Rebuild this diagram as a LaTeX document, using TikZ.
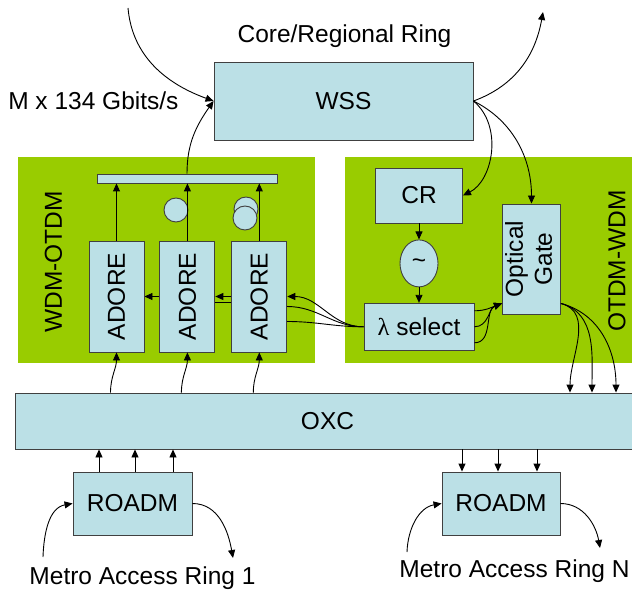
\documentclass[tikz,border=0pt]{standalone}
\usepackage{fontspec}
\setmainfont{Liberation Sans}
\newfontfamily\greekfont{Liberation Serif}
\usepackage{graphicx}
\usetikzlibrary{arrows.meta, calc, backgrounds, positioning, shapes.geometric}
\definecolor{lime}{RGB}{153, 204, 0}
\definecolor{b1}{RGB}{187, 224, 230}
\definecolor{g}{HTML}{404040}

\begin{document}
\begin{tikzpicture}[x=1pt, y=1pt,
	font=\fontsize{24.5}{29}\selectfont,
	box/.style={draw=g, fill=b1, line width=0.9pt, inner sep=0pt},
	adore/.style={box, minimum width=55, minimum height=111},
	link/.style={line width=0.9pt, -{Triangle[length=8pt, width=7pt]}},
	panel/.style={fill=lime}
]
			\useasboundingbox (0, 0) rectangle (632, 590);
			
			\begin{pgfonlayer}{background}
				\fill[panel] (18, 227) rectangle (315, 433);
				\fill[panel] (345, 227) rectangle (640, 433);
			\end{pgfonlayer}
			
			\node[anchor=base] (ringlabel) at (344.5, 547) {Core/Regional Ring};
			\node[anchor=base east] (ratelabel) at (182, 480) {M x 134 Gbits/s};
			\node[box, minimum width=259, minimum height=78] (wss) at (343.5, 489) {WSS};
			
			% WDM-OTDM side
			\node[box, minimum width=180, minimum height=9] (bar) at (187, 411.5) {};
			\node[adore] (a1) at (116.5, 293.5) {\rotatebox{90}{ADORE}};
			\node[adore, right=15pt of a1] (a2) {\rotatebox{90}{ADORE}};
			\node[adore, right=16pt of a2] (a3) {\rotatebox{90}{ADORE}};
			\node[box, circle, minimum size=24] (loopa) at (176, 380) {};
			\node[box, circle, minimum size=24] (loopb) at (246, 381) {};
			\node[box, circle, minimum size=24] (loopc) at (245, 372) {};
			\node[rotate=90] (wolabel) at (53.5, 328) {WDM-OTDM};
			
			% OTDM-WDM side
			\node[box, minimum width=87, minimum height=55] (cr) at (419, 394.5) {CR};
			\node[box, ellipse, minimum width=38, minimum height=47, below=16pt of cr] (osc) {\textasciitilde};
			\node[box, minimum width=110, minimum height=47, below=15.5pt of osc] (lam) {{\greekfont λ} select};
			\node[box, minimum width=55, minimum height=110] (og) at (531.5, 331) {\rotatebox{90}{\begin{tabular}{@{}c@{}}Optical\\Gate\end{tabular}}};
			\node[rotate=90] (owlabel) at (617, 329) {OTDM-WDM};
			
			\node[box, minimum width=625, minimum height=56] (oxc) at (327.5, 169) {OXC};
			\node[box, minimum width=119, minimum height=63] (r1) at (132.5, 86.5) {ROADM};
			\node[box, minimum width=118, minimum height=63] (r2) at (501, 86.5) {ROADM};
			\node[anchor=base] (ring1) at (142.5, 6) {Metro Access Ring 1};
			\node[anchor=base] (ringn) at (514.5, 13) {Metro Access Ring N};
			
			\coordinate (corein) at (128, 582);
			\coordinate (coreout) at (543, 578);
			\coordinate (m1in) at (43, 33);
			\coordinate (m1out) at (233, 32);
			\coordinate (mnin) at (407, 38);
			\coordinate (mnout) at (600, 42);
			\coordinate (ogin) at ($(og.south west) + (0, 11)$);
			\coordinate (ogout) at ($(og.south east) + (0, 11)$);
			
			\draw[link] (corein) to[out=-85, in=160] (wss.west);
			\draw[link] (wss.east) to[out=20, in=-100] (coreout);
			\draw[link] (bar.north) to[out=90, in=235] (wss.west);
			\draw[link] (wss.east) .. controls +(30, -25) and +(30, 15) .. (cr.east);
			\draw[link] (wss.east) .. controls +(40, -20) and +(0, 45) .. (og.north);
			
			\foreach \n in {a1, a2, a3}
				\draw[link] (\n.north) -- (\n.north |- bar.south);
			\foreach \n in {a1, a2, a3}
				\draw[link] ($(\n.south |- oxc.north) + (-6, 0)$) to[out=90, in=-90] (\n.south);
			
			% lambda select feeds the ADOREs, running behind the boxes
			\begin{pgfonlayer}{background}
				\draw[link] (lam.west) to[out=180, in=0] (a3.east);
				\draw[link] (lam.west) to[out=180, in=0] ($(a3.east) + (0, -10)$) -- (a3.west) -- (a2.east);
				\draw[link] (lam.west) to[out=180, in=0] ($(a3.east) + (0, -25)$) -- ($(a3.west) + (0, -6)$)
					-- ($(a2.east) + (0, -6)$) -- (a2.west) -- (a1.east);
			\end{pgfonlayer}
			
			\draw[link] (cr.south) -- (osc.north);
			\draw[link] (osc.south) -- (lam.north);
			\foreach \dy in {16, 0, -16}
				\draw[link] ($(lam.east) + (0, \dy)$) to[out=0, in=200] (ogin);
			\foreach \x in {570, 592, 616}
				\draw[link] (ogout) to[out=-15, in=90] (oxc.north -| \x, 0);
			
			\foreach \dx in {-33.5, 2.5, 40.5}
				\draw[link] ($(r1.north) + (\dx, 0)$) -- ($(r1.north |- oxc.south) + (\dx, 0)$);
			\foreach \dx in {-39, -3, 36}
				\draw[link] ($(r2.north |- oxc.south) + (\dx, 0)$) -- ($(r2.north) + (\dx, 0)$);
			
			\draw[link] (m1in) to[out=88, in=190] (r1.west);
			\draw[link] (r1.east) to[out=0, in=100] (m1out);
			\draw[link] (mnin) to[out=88, in=190] (r2.west);
			\draw[link] (r2.east) to[out=0, in=100] (mnout);
			
\end{tikzpicture}
\end{document}
